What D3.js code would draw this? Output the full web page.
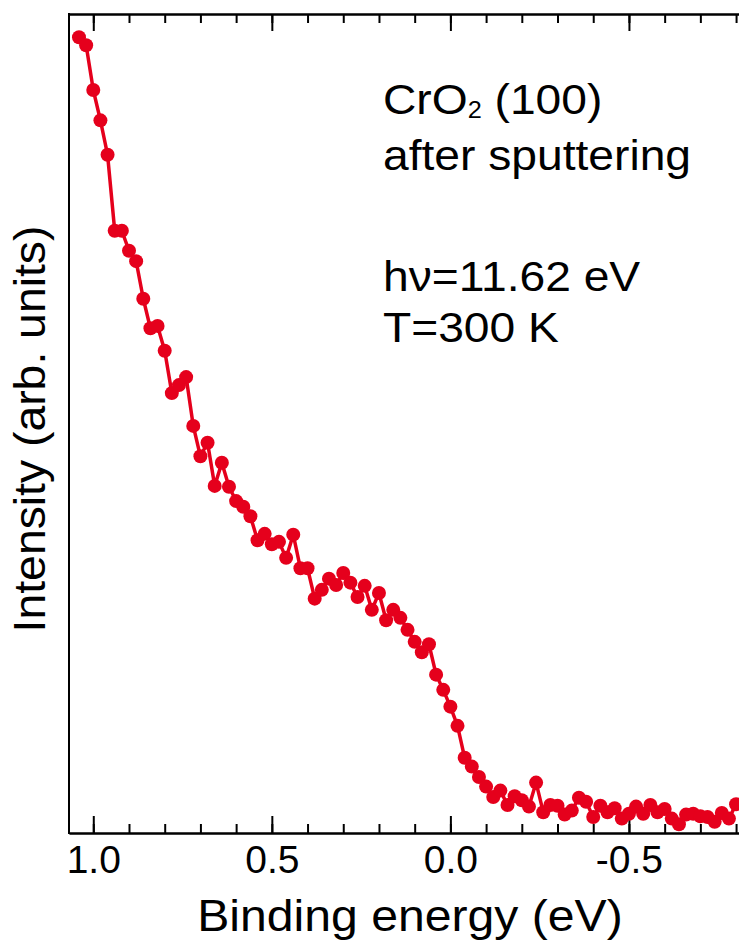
<!DOCTYPE html>
<html lang="en">
<head>
    <meta charset="utf-8">
    <script src="https://d3js.org/d3.v7.min.js"></script>
    <style>
        body { margin: 0; background: #fff; }
        text { font-family: "Liberation Sans", Arial, Helvetica, sans-serif; fill: #000; }
        .axis path, .axis line { stroke: #000; stroke-width: 2px; }
        .spectrum { fill: none; stroke: #e5001c; stroke-width: 3.5px; stroke-linejoin: round; }
        .dot { fill: #e5001c; }
    </style>
</head>
<body>
<script type="text/javascript">
    // binding energy (eV), 0.02 eV steps from 1.04 down to -0.80
    var energy = [1.04, 1.02, 1.00, 0.98, 0.96, 0.94, 0.92, 0.90, 0.88, 0.86,
        0.84, 0.82, 0.80, 0.78, 0.76, 0.74, 0.72, 0.70, 0.68, 0.66,
        0.64, 0.62, 0.60, 0.58, 0.56, 0.54, 0.52, 0.50, 0.48, 0.46,
        0.44, 0.42, 0.40, 0.38, 0.36, 0.34, 0.32, 0.30, 0.28, 0.26,
        0.24, 0.22, 0.20, 0.18, 0.16, 0.14, 0.12, 0.10, 0.08, 0.06,
        0.04, 0.02, 0.00, -0.02, -0.04, -0.06, -0.08, -0.10, -0.12, -0.14,
        -0.16, -0.18, -0.20, -0.22, -0.24, -0.26, -0.28, -0.30, -0.32, -0.34,
        -0.36, -0.38, -0.40, -0.42, -0.44, -0.46, -0.48, -0.50, -0.52, -0.54,
        -0.56, -0.58, -0.60, -0.62, -0.64, -0.66, -0.68, -0.70, -0.72, -0.74,
        -0.76, -0.78, -0.80];
    // intensity (arb. units)
    var intensity = [99.5, 98.5, 92.9, 89.1, 84.8, 75.3, 75.3, 72.8, 71.5, 66.8,
        63.1, 63.4, 60.3, 55.0, 56.0, 57.0, 50.9, 47.1, 48.8, 43.4,
        46.3, 43.3, 41.5, 40.8, 39.6, 36.6, 37.4, 36.1, 36.4, 34.4,
        37.3, 33.1, 33.1, 29.3, 30.4, 31.8, 31.0, 32.5, 31.3, 29.5,
        30.9, 27.9, 30.0, 26.6, 27.9, 26.9, 25.4, 23.9, 22.6, 23.6,
        19.8, 17.9, 15.8, 13.4, 9.4, 8.3, 7.0, 5.8, 4.5, 5.3,
        3.5, 4.6, 4.1, 3.3, 6.3, 2.6, 3.5, 3.4, 2.3, 2.8,
        4.4, 3.9, 2.0, 3.4, 2.6, 3.1, 1.8, 2.4, 3.3, 2.4,
        3.5, 2.6, 3.0, 1.8, 1.1, 2.3, 2.4, 2.1, 2.0, 1.4,
        2.5, 1.8, 3.6];
    var majorTicks = [1.0, 0.5, 0.0, -0.5];
    var minorTicks = [1.0, 0.9, 0.8, 0.7, 0.6, 0.5, 0.4, 0.3, 0.2, 0.1, 0.0,
        -0.1, -0.2, -0.3, -0.4, -0.5, -0.6, -0.7, -0.8];
    var notes = ["after sputtering", "", "h\u03bd=11.62 eV", "T=300 K"];

    var width = 739, height = 944;
    var plot = {left: 69, right: 740, top: 14, bottom: 833};

    var x = d3.scaleLinear().domain([1.068, -0.811]).range([plot.left, plot.right]);
    var y = d3.scaleLinear().domain([0, 102.4]).range([plot.bottom, plot.top]);

    var svg = d3.select("body").append("svg")
        .attr("width", width)
        .attr("height", height);

    var fmt = function (d) { return d3.format(".1f")(d).replace("\u2212", "-"); };

    // bottom axis: minor + major ticks pointing inward
    svg.append("g")
        .attr("class", "axis")
        .attr("transform", "translate(0," + plot.bottom + ")")
        .call(d3.axisBottom(x).tickValues(minorTicks).tickSizeInner(-9).tickSizeOuter(0).tickFormat(""));
    svg.append("g")
        .attr("class", "axis")
        .attr("transform", "translate(0," + plot.bottom + ")")
        .call(d3.axisBottom(x).tickValues(majorTicks).tickSizeInner(-17).tickSizeOuter(0)
            .tickPadding(12).tickFormat(fmt))
        .call(function (g) {
            g.selectAll("text").style("font-size", "39px")
                .style("font-family", "'Liberation Sans', Arial, sans-serif");
        });

    // top axis
    svg.append("g")
        .attr("class", "axis")
        .attr("transform", "translate(0," + plot.top + ")")
        .call(d3.axisTop(x).tickValues(minorTicks).tickSizeInner(-9).tickSizeOuter(0).tickFormat(""));
    svg.append("g")
        .attr("class", "axis")
        .attr("transform", "translate(0," + plot.top + ")")
        .call(d3.axisTop(x).tickValues(majorTicks).tickSizeInner(-17).tickSizeOuter(0).tickFormat(""));

    // left axis, no ticks
    svg.append("line")
        .attr("x1", plot.left).attr("x2", plot.left)
        .attr("y1", plot.top - 1).attr("y2", plot.bottom + 1)
        .style("stroke", "#000").style("stroke-width", 2);

    var pts = energy.map(function (e, i) { return [e, intensity[i]]; });

    svg.append("path")
        .datum(pts)
        .attr("class", "spectrum")
        .attr("d", d3.line()
            .x(function (d) { return x(d[0]); })
            .y(function (d) { return y(d[1]); }));

    svg.selectAll(".dot")
        .data(pts)
        .enter()
        .append("circle")
        .attr("class", "dot")
        .attr("cx", function (d) { return x(d[0]); })
        .attr("cy", function (d) { return y(d[1]); })
        .attr("r", 7);

    // axis titles (glyphs in the original are a bit wider than Arial)
    svg.append("g")
        .attr("transform", "translate(410,931) scale(1.07,1)")
        .append("text")
        .attr("text-anchor", "middle")
        .style("font-size", "45px")
        .text("Binding energy (eV)");

    svg.append("g")
        .attr("transform", "translate(45,429) rotate(-90) scale(1.03,1)")
        .append("text")
        .attr("text-anchor", "middle")
        .style("font-size", "45px")
        .text("Intensity (arb. units)");

    // sample annotation
    var notesG = svg.append("g")
        .attr("transform", "translate(383,0) scale(1.1,1)");

    var title = notesG.append("text")
        .attr("x", 0)
        .attr("y", 114)
        .style("font-size", "42px");
    title.append("tspan").text("CrO");
    title.append("tspan").attr("dy", 4).style("font-size", "23px").text("2");
    title.append("tspan").attr("dy", -4).text(" (100)");

    var noteY = [170, 230, 291, 342];
    notesG.selectAll(".note")
        .data(notes)
        .enter()
        .append("text")
        .attr("class", "note")
        .attr("x", 0)
        .attr("y", function (d, i) { return noteY[i]; })
        .style("font-size", "42px")
        .text(function (d) { return d; });
</script>
</body>
</html>
